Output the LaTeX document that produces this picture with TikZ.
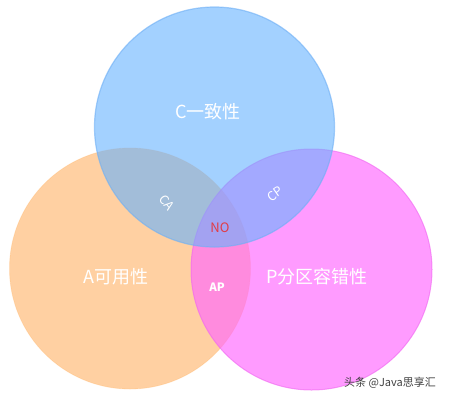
\documentclass[tikz,border=0pt]{standalone}
\usepackage{fontspec}
\setmainfont{Noto Sans CJK SC}
\usepackage{xcolor}

\definecolor{setblue}{RGB}{102,178,255}
\definecolor{setorange}{RGB}{255,170,85}
\definecolor{setpink}{RGB}{255,102,255}
\definecolor{edgeblue}{RGB}{110,175,245}
\definecolor{edgepink}{RGB}{240,100,240}
\definecolor{noRed}{RGB}{225,60,70}

\begin{document}
\begin{tikzpicture}[x=1pt, y=-1pt,
    setname/.style={text=white, font=\fontsize{18}{18}\selectfont},
    pairname/.style={text=white, inner sep=1pt, font=\fontsize{12.5}{12.5}\selectfont}]
    \useasboundingbox (0,0) rectangle (450,400);

    % A circle
    \fill[setorange, fill opacity=0.55] (130,268.5) circle (120.5pt);
    \draw[setorange, opacity=0.25, line width=0.8pt] (130,268.5) circle (120.5pt);

    % P circle
    \filldraw[fill=setpink, fill opacity=0.65, draw=edgepink, draw opacity=0.6, line width=1pt]
        (311.5,269.5) circle (120.5pt);

    % C circle
    \filldraw[fill=setblue, fill opacity=0.6, draw=edgeblue, draw opacity=0.6, line width=1.2pt]
        (214.5,127) circle (120pt);

    % Set labels
    \node[setname] (cset) at (208,112) {C一致性};
    \node[setname] (aset) at (116,277) {A可用性};
    \node[setname] (pset) at (317,277) {P分区容错性};

    % Pair labels
    \node[pairname, rotate=-52] (ca) at (167,203) {CA};
    \node[pairname, rotate=35] (cp) at (275,194) {CP};
    \node[pairname, font=\bfseries\fontsize{11.5}{11.5}\selectfont] (ap) at (217,287) {AP};
    \node[text=noRed, font=\fontsize{13}{13}\selectfont] (none) at (220,228) {NO};

    % Watermark
    \node[text=black!75, font=\fontsize{11}{11}\selectfont] (mark) at (390,383) {头条 @Java思享汇};
\end{tikzpicture}
\end{document}
